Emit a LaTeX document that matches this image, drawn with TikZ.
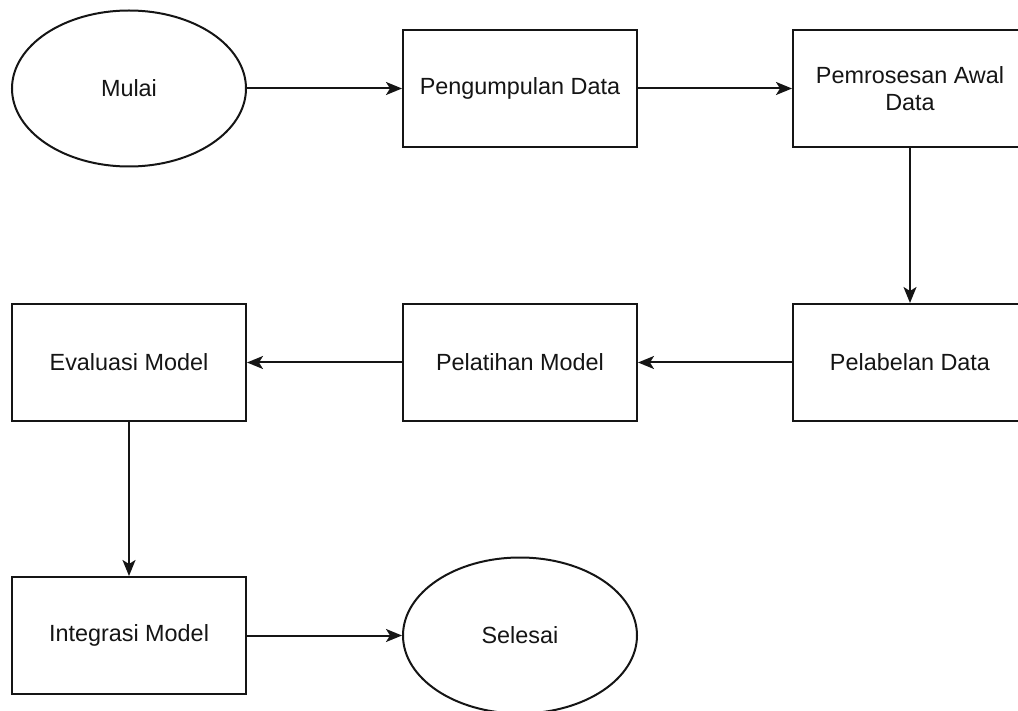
\documentclass[tikz,border=0pt]{standalone}
\usepackage{fontspec}
\setmainfont{Liberation Sans}
\usetikzlibrary{arrows.meta,shapes.geometric}
\definecolor{ink}{HTML}{151515}
\tikzset{
  flow/.style={line width=2pt, draw=ink, fill=white, inner sep=0pt,
    font=\fontsize{23.4pt}{27pt}\selectfont, text=ink, align=center},
  procbox/.style={flow, rectangle, minimum width=234pt, minimum height=117pt},
  terminal/.style={flow, ellipse, minimum width=234pt, minimum height=156pt},
  link/.style={line width=2pt, draw=ink,
    -{Stealth[length=16pt, width=13pt, inset=4pt]}}
}
\begin{document}
\begin{tikzpicture}[x=1pt, y=-1pt]
  \useasboundingbox (0,0) rectangle (1018,711);
  \clip (0,0) rectangle (1018,711);

  % top row
  \node[terminal] (mulai) at (129,88.5) {Mulai};
  \node[procbox]  (kumpul) at (520,88.5) {Pengumpulan Data};
  \node[procbox]  (proses) at (910,88.5) {Pemrosesan Awal\\Data};

  % middle row
  \node[procbox] (label) at (910,362.5) {Pelabelan Data};
  \node[procbox] (latih) at (520,362.5) {Pelatihan Model};
  \node[procbox] (eval)  at (129,362.5) {Evaluasi Model};

  % bottom row
  \node[procbox]  (integ)   at (129,635.5) {Integrasi Model};
  \node[terminal] (selesai) at (520,635.5) {Selesai};

  % connectors
  \draw[link] (mulai.east) -- (kumpul.west);
  \draw[link] (kumpul.east) -- (proses.west);
  \draw[link] (proses.south) -- (label.north);
  \draw[link] (label.west) -- (latih.east);
  \draw[link] (latih.west) -- (eval.east);
  \draw[link] (eval.south) -- (integ.north);
  \draw[link] (integ.east) -- (selesai.west);
\end{tikzpicture}
\end{document}
